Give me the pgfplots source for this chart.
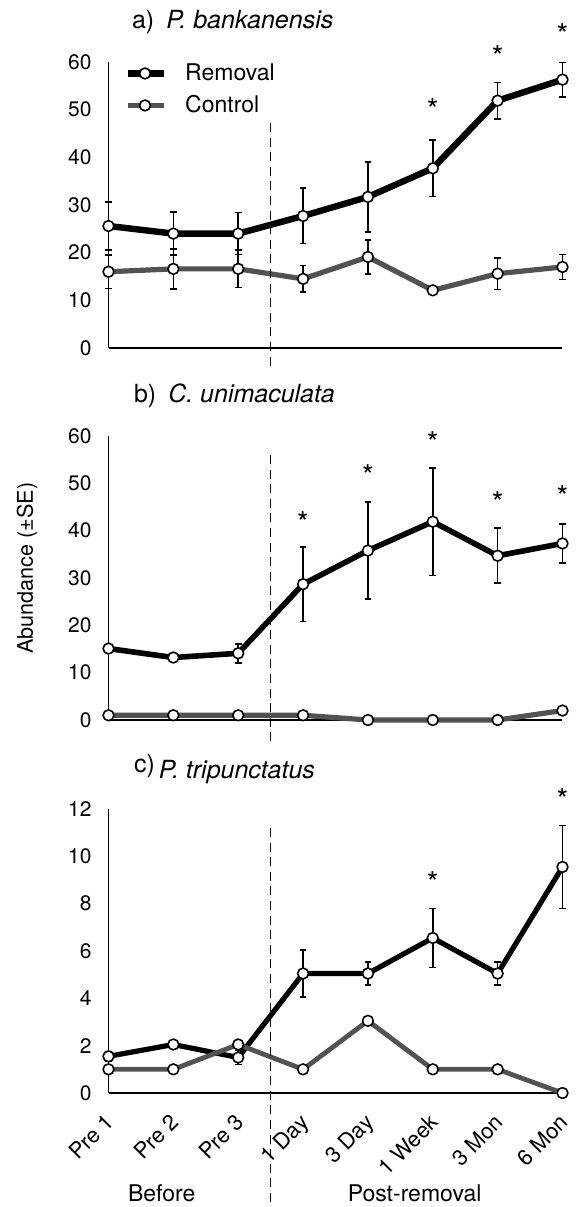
\documentclass[border=0pt]{standalone}
\usepackage{pgfplots}
\pgfplotsset{compat=1.18}
\usepackage{pgfplotstable}
\usepackage{fontspec}
\setmainfont{TeX Gyre Heros}

\pgfplotstableread{
x y e
0 25.6 5.0
1 24.0 4.5
2 24.0 4.4
3 27.7 5.8
4 31.7 7.3
5 37.7 5.9
6 51.9 3.8
7 56.3 3.6
}\remA
\pgfplotstableread{
x y e
0 16.0 3.5
1 16.6 4.2
2 16.6 3.9
3 14.5 2.8
4 19.1 3.6
5 12.1 0
6 15.6 3.3
7 17.0 2.6
}\conA
\pgfplotstableread{
x y e
0 15.1 0.8
1 13.2 0.7
2 14.1 2.0
3 28.7 7.9
4 35.8 10.3
5 41.9 11.4
6 34.7 5.8
7 37.3 4.1
}\remB
\pgfplotstableread{
x y
0 1.0
1 1.0
2 1.0
3 1.0
4 0
5 0
6 0
7 2.0
}\conB
\pgfplotstableread{
x y e
0 1.55 0.2
1 2.05 0.15
2 1.5 0.3
3 5.05 1.0
4 5.05 0.5
5 6.55 1.25
6 5.05 0.5
7 9.55 1.75
}\remC
\pgfplotstableread{
x y
0 1.0
1 1.0
2 2.05
3 1.0
4 3.05
5 1.0
6 1.0
7 0
}\conC

\pgfplotsset{
  panel/.style={
    scale only axis, width=227pt, xmin=0, xmax=7, ymin=0,
    axis x line*=bottom, axis y line*=left,
    axis line style={line width=0.75pt, -},
    major tick length=0pt,
    xtick={0,...,7},
    clip=false,
    tick label style={font=\fontsize{10.5}{12}\selectfont},
    /pgf/number format/assume math mode=true,
    yticklabel style={xshift=-5pt},
    anchor=south west,
  },
  mk/.style={mark=*, mark size=2.7pt, mark options={fill=white, draw=black, line width=0.8pt, solid}},
  eb/.style={error bars/.cd, y dir=both, y explicit,
    error bar style={line width=0.85pt, black, solid},
    error mark options={rotate=90, mark size=1.7pt, line width=0.85pt, black}},
  star/.style={draw=none, mark=none, nodes near coords={*},
    every node near coord/.append style={font=\fontsize{15}{15}\selectfont, anchor=center, yshift=-3pt, inner sep=0pt}},
  vdash/.style={black, line width=0.75pt, dash pattern=on 4.5pt off 2.8pt, mark=none},
}
\definecolor{ctrl}{gray}{0.32}

\begin{document}
\begin{tikzpicture}
\path[use as bounding box] (0,0) rectangle (287.5pt,-603.5pt);

% Panel a
\begin{axis}[panel, at={(54.25pt,-174pt)}, height=143pt, ymax=60,
  ytick={0,10,...,60}, xticklabels={},
  legend style={at={(0.035,1.01)}, anchor=north west, draw=none, fill=none,
    font=\fontsize{11.5}{14}\selectfont, row sep=2pt, inner sep=0pt,
    /tikz/every odd column/.append style={column sep=7pt}},
  legend cell align=left,
  legend image code/.code={\draw[mark repeat=2, mark phase=2] plot coordinates {(0pt,0pt) (8.5pt,0pt) (18pt,0pt)};}]
\addplot[black, line width=3.2pt, line join=round, mk, eb] table[x=x, y=y, y error=e] {\remA};
\addplot[ctrl, line width=2.6pt, line join=round, mk, eb] table[x=x, y=y, y error=e] {\conA};
\legend{Removal, Control}
\addplot[star, forget plot] coordinates {(5,51.3) (6,62.3) (7,67.0)};
\addplot[vdash, forget plot] coordinates {(2.5,47.2) (2.5,-4.6)};
\end{axis}

% Panel b
\begin{axis}[panel, at={(54.25pt,-360pt)}, height=142pt, ymax=60,
  ytick={0,10,...,60}, xticklabels={}]
\addplot[black, line width=2.8pt, line join=round, mk, eb] table[x=x, y=y, y error=e] {\remB};
\addplot[ctrl, line width=2.6pt, line join=round, mk] table[x=x, y=y] {\conB};
\addplot[star] coordinates {(3,43.0) (4,53.0) (5,59.9) (6,47.3) (7,48.4)};
\addplot[vdash] coordinates {(2.5,56) (2.5,-4.9)};
\end{axis}

% Panel c
\begin{axis}[panel, at={(54.25pt,-546.5pt)}, height=142pt, ymax=12,
  ytick={0,2,...,12},
  xticklabels={Pre 1, Pre 2, Pre 3, 1 Day, 3 Day, 1 Week, 3 Mon, 6 Mon},
  xticklabel style={rotate=45, anchor=north east, font=\fontsize{11}{13}\selectfont, xshift=-4.95pt, yshift=-1.85pt}]
\addplot[black, line width=2.6pt, line join=round, mk, eb] table[x=x, y=y, y error=e] {\remC};
\addplot[ctrl, line width=2.4pt, line join=round, mk] table[x=x, y=y] {\conC};
\addplot[star] coordinates {(5,9.16) (7,12.67)};
\addplot[vdash] coordinates {(2.5,11.2) (2.5,-4.8)};
\node[font=\fontsize{11.5}{13}\selectfont] at (axis cs:0.82,-4.22) {Before};
\node[font=\fontsize{11.5}{13}\selectfont] at (axis cs:4.72,-4.22) {Post-removal};
\end{axis}

% titles and y label
\node[anchor=base west, font=\fontsize{12.5}{14}\selectfont] at (62.5pt,-14pt) {a)\hspace{6pt}\textit{P. bankanensis}};
\node[anchor=base west, font=\fontsize{12.5}{14}\selectfont] at (63.5pt,-201pt) {b)\hspace{6pt}\textit{C. unimaculata}};
\node[anchor=base west, font=\fontsize{12.5}{14}\selectfont] at (63.5pt,-389pt) {\raisebox{3pt}{c)}\hspace{2pt}\textit{P. tripunctatus}};
\node[rotate=90, font=\fontsize{10.8}{13}\selectfont] at (13.5pt,-284pt) {Abundance (±SE)};
\end{tikzpicture}
\end{document}
